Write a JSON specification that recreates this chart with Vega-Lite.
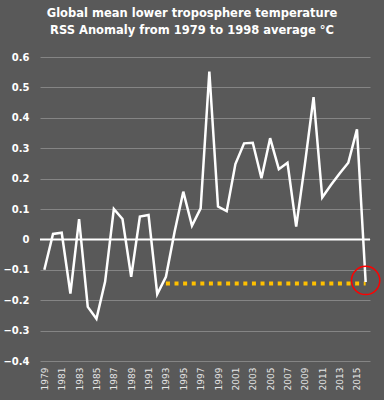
{
  "$schema": "https://vega.github.io/schema/vega-lite/v6.json",
  "autosize": "none",
  "width": 330,
  "height": 304,
  "padding": {"left": 40, "top": 57, "right": 14, "bottom": 39},
  "background": "#595959",
  "config": {"view": {"stroke": null}},
  "title": {
    "text": ["Global mean lower troposphere temperature", "RSS Anomaly from 1979 to 1998 average °C"],
    "font": "DejaVu Sans",
    "fontSize": 11.5,
    "fontWeight": "bold",
    "color": "#ffffff",
    "anchor": "middle",
    "dx": -13,
    "lineHeight": 17,
    "offset": 16
  },
  "datasets": {
    "rss": [
      {"year": 1979, "anomaly": -0.10},
      {"year": 1980, "anomaly": 0.018},
      {"year": 1981, "anomaly": 0.022},
      {"year": 1982, "anomaly": -0.178},
      {"year": 1983, "anomaly": 0.067},
      {"year": 1984, "anomaly": -0.222},
      {"year": 1985, "anomaly": -0.261},
      {"year": 1986, "anomaly": -0.139},
      {"year": 1987, "anomaly": 0.100},
      {"year": 1988, "anomaly": 0.067},
      {"year": 1989, "anomaly": -0.123},
      {"year": 1990, "anomaly": 0.075},
      {"year": 1991, "anomaly": 0.080},
      {"year": 1992, "anomaly": -0.180},
      {"year": 1993, "anomaly": -0.123},
      {"year": 1994, "anomaly": 0.025},
      {"year": 1995, "anomaly": 0.157},
      {"year": 1996, "anomaly": 0.045},
      {"year": 1997, "anomaly": 0.102},
      {"year": 1998, "anomaly": 0.552},
      {"year": 1999, "anomaly": 0.108},
      {"year": 2000, "anomaly": 0.093},
      {"year": 2001, "anomaly": 0.248},
      {"year": 2002, "anomaly": 0.316},
      {"year": 2003, "anomaly": 0.318},
      {"year": 2004, "anomaly": 0.201},
      {"year": 2005, "anomaly": 0.333},
      {"year": 2006, "anomaly": 0.231},
      {"year": 2007, "anomaly": 0.252},
      {"year": 2008, "anomaly": 0.042},
      {"year": 2009, "anomaly": 0.247},
      {"year": 2010, "anomaly": 0.468},
      {"year": 2011, "anomaly": 0.138},
      {"year": 2012, "anomaly": 0.179},
      {"year": 2013, "anomaly": 0.217},
      {"year": 2014, "anomaly": 0.252},
      {"year": 2015, "anomaly": 0.362},
      {"year": 2016, "anomaly": -0.14}
    ],
    "pause": [
      {"year": 1993, "level": -0.145},
      {"year": 2016, "level": -0.145}
    ],
    "mark": [
      {"year": 2016, "level": -0.135}
    ],
    "zero": [
      {"value": 0}
    ]
  },
  "encoding": {
    "x": {
      "field": "year",
      "type": "ordinal",
      "scale": {"type": "point", "padding": 0.5},
      "axis": {
        "title": null,
        "values": [1979, 1981, 1983, 1985, 1987, 1989, 1991, 1993, 1995, 1997, 1999, 2001, 2003, 2005, 2007, 2009, 2011, 2013, 2015],
        "labelAngle": -90,
        "labelFont": "DejaVu Sans",
        "labelFontSize": 9,
        "labelColor": "#e6e6e6",
        "labelPadding": 6,
        "labelOverlap": false,
        "ticks": false,
        "domain": false,
        "grid": false
      }
    }
  },
  "layer": [
    {
      "data": {"name": "zero"},
      "mark": {"type": "rule", "color": "#ffffff", "strokeWidth": 2},
      "encoding": {
        "x": null,
        "y": {
          "field": "value",
          "type": "quantitative",
          "scale": {"domain": [-0.4, 0.6], "nice": false, "zero": false},
          "axis": {
            "title": null,
            "values": [-0.4, -0.3, -0.2, -0.1, 0, 0.1, 0.2, 0.3, 0.4, 0.5, 0.6],
            "tickCount": 20,
            "labelExpr": "datum.value === 0 ? '0' : format(datum.value, '.1f')",
            "labelFont": "DejaVu Sans",
            "labelFontSize": 10,
            "labelFontWeight": "bold",
            "labelColor": "#ffffff",
            "labelPadding": 11,
            "labelOverlap": false,
            "labelFlush": false,
            "ticks": false,
            "domain": false,
            "grid": true,
            "gridColor": "#858585",
            "gridWidth": 1
          }
        }
      }
    },
    {
      "data": {"name": "pause"},
      "mark": {"type": "line", "color": "#ffc000", "strokeWidth": 4, "strokeDash": [4, 4.6], "strokeCap": "butt"},
      "encoding": {
        "y": {"field": "level", "type": "quantitative"}
      }
    },
    {
      "data": {"name": "rss"},
      "mark": {"type": "line", "color": "#ffffff", "strokeWidth": 2.5, "strokeJoin": "miter"},
      "encoding": {
        "y": {"field": "anomaly", "type": "quantitative"}
      }
    },
    {
      "data": {"name": "mark"},
      "mark": {"type": "point", "shape": "circle", "size": 800, "color": "#ff0000", "filled": false, "strokeWidth": 1.5, "opacity": 1},
      "encoding": {
        "y": {"field": "level", "type": "quantitative"}
      }
    }
  ]
}
